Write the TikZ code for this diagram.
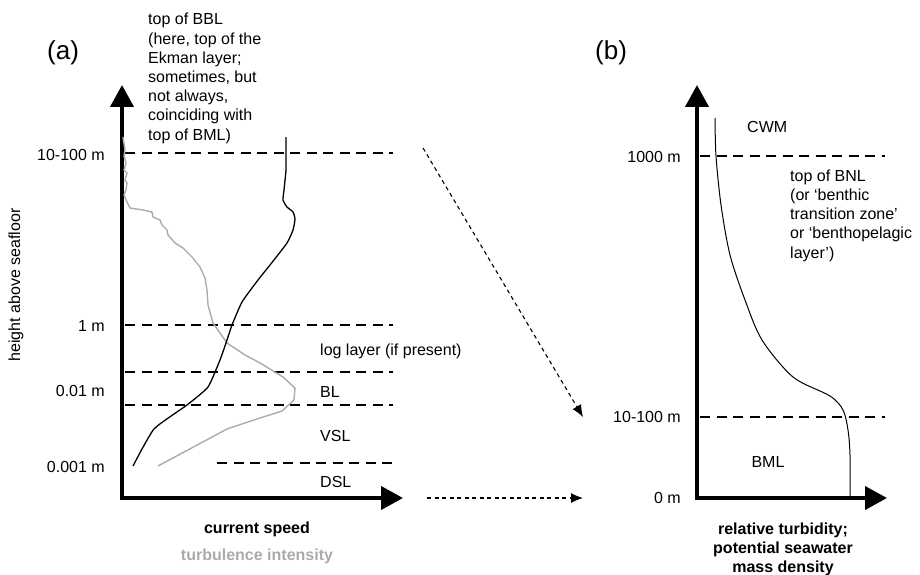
\documentclass[tikz,border=0pt]{standalone}
\usepackage{fontspec}
\setmainfont{Liberation Sans}
\usepackage{xcolor}
\usepackage{tikz}
\usetikzlibrary{arrows.meta}

\definecolor{turbgray}{gray}{0.67}

\begin{document}
\begin{tikzpicture}[x=1pt,y=-1pt,
	axis/.style={line width=4pt,{Triangle[length=22pt,width=23pt]}-{Triangle[length=22pt,width=23pt]}},
	layer/.style={line width=2pt,dash pattern=on 10pt off 6.5pt},
	link/.style={line width=1.1pt,dash pattern=on 4pt off 3.5pt,-{Latex[length=12pt,width=10pt]}},
	lbl/.style={font=\fontsize{16}{19.2}\selectfont,inner sep=0pt},
	panel/.style={font=\fontsize{26}{30}\selectfont,inner sep=0pt}]
	\useasboundingbox (0,0) rectangle (920,575);
	
	% Eixos (a)
	\coordinate (a0) at (122,498);
	\coordinate (atop) at (122,85);
	\coordinate (aright) at (403,498);
	\draw[axis] (atop) -- (a0) -- (aright);
	
	% Eixos (b)
	\coordinate (b0) at (697,498);
	\coordinate (btop) at (697,85);
	\coordinate (bright) at (887,498);
	\draw[axis] (btop) -- (b0) -- (bright);
	
	% Camadas (a)
	\draw[layer] (125,153) -- (393,153);
	\draw[layer] (125,325) -- (393,325);
	\draw[layer] (125,372) -- (393,372);
	\draw[layer] (125,405) -- (393,405);
	\draw[layer] (217,463) -- (393,463);
	
	% Camadas (b)
	\draw[layer] (700,156) -- (885,156);
	\draw[layer] (700,417) -- (885,417);
	
	% Turbulence intensity
	\draw[turbgray,line width=1.4pt,line join=round] (123,137) -- (125,150) -- (124,156) -- (126,163) -- (124,170) -- (127,173) -- (125,180) -- (127,183) -- (126,190) -- (124,195) -- (127,202) -- (130,208) -- (143,210) -- (152,212) -- (153,217) -- (160,220) -- (162,225) -- (167,230) -- (168,235) -- (175,243) -- (183,248) -- (192,257) -- (200,267) -- (205,278) -- (207,290) -- (208,305) -- (213,323) -- (227,343) -- (245,355) -- (260,363) -- (283,377) -- (295,388) -- (294,400) -- (282,411) -- (260,418) -- (227,429) -- (158,466);
	
	% Current speed
	\draw[line width=1.3pt,line join=round] plot[smooth,tension=0.3] coordinates {(286,137) (286,153) (286,170) (284,190) (283,200) (287,207) (293,212) (295,219) (293,230) (287,243) (270,265) (258,280) (242,302) (232,325) (227,340) (220,360) (208,387) (187,405) (154,429) (133,466)};
	
	% Turbidity (b)
	\draw[line width=1pt] plot[smooth,tension=0.5] coordinates {(715,118) (716,156) (721,205) (730,255) (745,300) (762,340) (793,377) (830,396) (843,410) (848,430) (850,455) (850,496)};
	
	% Setas
	\coordinate (d1) at (423,148);
	\coordinate (d2) at (583,417);
	\coordinate (h1) at (427,498);
	\coordinate (h2) at (583,498);
	\draw[link] (d1) -- (d2);
	\draw[link] (h1) -- (h2);
	
	% Rótulos (a)
	\node[panel,anchor=base west] (pa) at (47,60) {(a)};
	\node[lbl,anchor=base east] (ya1) at (105,160) {10-100 m};
	\node[lbl,anchor=base east] (ya2) at (105,331) {1 m};
	\node[lbl,anchor=base east] (ya3) at (105,396) {0.01 m};
	\node[lbl,anchor=base east] (ya4) at (105,472) {0.001 m};
	\node[lbl,anchor=base west,align=left] (bbl) at (148,140) {top of BBL\\(here, top of the\\Ekman layer;\\sometimes, but\\not always,\\coinciding with\\top of BML)};
	\node[lbl,anchor=base west] (log) at (320,355) {log layer (if present)};
	\node[lbl,anchor=base west] (bl) at (320,397) {BL};
	\node[lbl,anchor=base west] (vsl) at (320,441) {VSL};
	\node[lbl,anchor=base west] (dsl) at (320,487) {DSL};
	\node[lbl,rotate=90] (ha) at (16,285) {height above seafloor};
	\node[lbl,anchor=base,font=\fontsize{16}{19.2}\selectfont\bfseries] (cs) at (257,533) {current speed};
	\node[lbl,anchor=base,font=\fontsize{16}{19.2}\selectfont\bfseries,turbgray] (ti) at (257,560) {turbulence intensity};
	
	% Rótulos (b)
	\node[panel,anchor=base west] (pb) at (595,60) {(b)};
	\node[lbl,anchor=base east] (yb1) at (681,162) {1000 m};
	\node[lbl,anchor=base east] (yb2) at (681,422) {10-100 m};
	\node[lbl,anchor=base east] (yb3) at (681,503) {0 m};
	\node[lbl,anchor=base west] (cwm) at (747,132) {CWM};
	\node[lbl,anchor=base west,align=left] (bnl) at (790,258) {top of BNL\\(or `benthic\\transition zone'\\or `benthopelagic\\layer')};
	\node[lbl,anchor=base] (bml) at (768,467) {BML};
	\node[lbl,anchor=base,align=center,font=\fontsize{16}{19}\selectfont\bfseries] (rt) at (783,572) {relative turbidity;\\potential seawater\\mass density};
\end{tikzpicture}
\end{document}
